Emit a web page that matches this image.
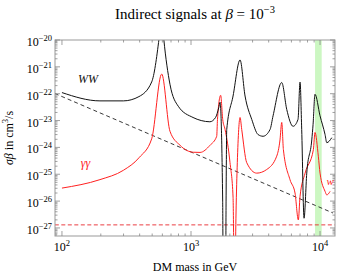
<!DOCTYPE html>
<html>
<head>
<meta charset="utf-8">
<script src="https://cdn.jsdelivr.net/npm/d3@7"></script>
<style>
  body { margin: 0; background: #fff; }
  text { font-family: "Liberation Serif", "DejaVu Serif", serif; }
</style>
</head>
<body>
<script>
const width = 343,
  height = 280;

const margin = { top: 40, right: 8, bottom: 44, left: 55 };
const innerWidth = width - margin.left - margin.right;
const innerHeight = height - margin.top - margin.bottom;

// WW channel (black)
const wwMass = [100, 197, 299, 395, 496, 565, 592, 615, 687, 797, 1037, 1200, 1400, 1550, 1640, 1679,
  1760, 1780, 1850, 1870, 1892, 2118, 2400, 2624, 2957, 3311, 3616, 4096, 4325, 5050, 5520,
  6180, 6750, 7000, 7210, 7520, 7890, 8630, 8830, 9140, 10000, 10940, 11280, 12330];
const wwSigma = [1.1e-22, 5.4e-23, 5.4e-23, 7.8e-23, 2.75e-22, 1.1e-20, 8e-20, 1.1e-20, 2.25e-22, 3.4e-23,
  1.3e-23, 1e-23, 9e-24, 1.3e-23, 3e-23, 4.8e-23,
  1e-26, 1e-30, 1e-30, 1e-26, 4.6e-24, 8.2e-23, 1.8e-21, 8.2e-23, 1.1e-23, 3e-24, 2.6e-24, 4.6e-24, 1.5e-23, 2.6e-22, 2.6e-23,
  6.1e-24, 1.1e-23, 2.7e-22, 4.7e-24, 2.3e-27, 1.1e-25, 1.9e-24, 7e-24, 9.5e-23, 1.5e-23, 3e-24, 1.5e-24, 2.3e-24];

// gamma gamma channel (red)
const ggMass = [100, 197, 299, 395, 496, 593, 687, 822, 1042, 1175, 1404, 1582, 1604, 1698, 1761,
  1836, 2006, 2118, 2175, 2233, 2285, 2343, 2400, 2472, 2703, 3230, 3860, 4615, 4895, 5050,
  5200, 5850, 6400, 6790, 7000, 7660, 8880, 9140, 9700, 10000, 10940, 11280, 11970];
const ggSigma = [3.05e-26, 6.3e-26, 1.4e-25, 4.1e-25, 2.1e-24, 5.4e-22, 4e-24, 1.2e-24, 6.6e-25, 6.5e-25, 1.2e-24, 2.6e-24, 1.1e-23, 8.7e-23, 1.1e-23,
  4.7e-24, 2.7e-25, 1.4e-26, 1e-30, 3.6e-27, 2.7e-25, 4.7e-24, 1.3e-23, 4.7e-24, 2.7e-25, 1.1e-25, 1.5e-25, 4.7e-25, 1.9e-24, 8.5e-24,
  8.3e-25, 6.3e-26, 2e-26, 2e-27, 1.5e-26, 1.1e-25, 8.3e-25, 3.6e-24, 4.7e-25, 1.1e-25, 2.3e-26, 1.7e-26, 2.3e-26];

// reference lines
const thermalMass = [88, 12600];
const thermalSigma = [1.02e-22, 3.6e-27];
const boundMass = [88, 13000];
const boundSigma = [1.3e-27, 1.3e-27];

// green band
const bandMass = [9150, 10300];

const xDecades = [2, 3, 4];
const yDecades = [-20, -21, -22, -23, -24, -25, -26, -27];

const xScale = d3
  .scaleLog()
  .domain([Math.pow(10, 1.946), Math.pow(10, 4.116)])
  .range([0, innerWidth]);

const yScale = d3
  .scaleLog()
  .domain([Math.pow(10, -27.3), 1e-20])
  .range([innerHeight, 0]);

const svg = d3
  .select("body")
  .append("svg")
  .attr("width", width)
  .attr("height", height);

svg
  .append("defs")
  .append("clipPath")
  .attr("id", "plot-clip")
  .append("rect")
  .attr("width", innerWidth)
  .attr("height", innerHeight);

const mainG = svg
  .append("g")
  .attr("transform", `translate(${margin.left}, ${margin.top})`);

// green band
mainG
  .append("rect")
  .attr("x", xScale(bandMass[0]))
  .attr("y", 0)
  .attr("width", xScale(bandMass[1]) - xScale(bandMass[0]))
  .attr("height", innerHeight)
  .attr("fill", "#ccf7c2");

const plotG = mainG.append("g").attr("clip-path", "url(#plot-clip)");

const line = d3
  .line()
  .x(d => xScale(d[0]))
  .y(d => yScale(d[1]));

const smooth = d3
  .line()
  .x(d => xScale(d[0]))
  .y(d => yScale(d[1]))
  .curve(d3.curveMonotoneX);

plotG
  .append("path")
  .datum(d3.zip(thermalMass, thermalSigma))
  .attr("d", line)
  .attr("fill", "none")
  .attr("stroke", "#222")
  .attr("stroke-width", 0.9)
  .attr("stroke-dasharray", "4,3");

plotG
  .append("path")
  .datum(d3.zip(boundMass, boundSigma))
  .attr("d", line)
  .attr("fill", "none")
  .attr("stroke", "#e8282d")
  .attr("stroke-width", 0.9)
  .attr("stroke-dasharray", "4,2.5");

plotG
  .append("path")
  .datum(d3.zip(ggMass, ggSigma))
  .attr("d", smooth)
  .attr("fill", "none")
  .attr("stroke", "#ff2020")
  .attr("stroke-width", 1);

plotG
  .append("path")
  .datum(d3.zip(wwMass, wwSigma))
  .attr("d", smooth)
  .attr("fill", "none")
  .attr("stroke", "#111")
  .attr("stroke-width", 1);

// frame
mainG
  .append("rect")
  .attr("width", innerWidth)
  .attr("height", innerHeight)
  .attr("fill", "none")
  .attr("stroke", "#999")
  .attr("stroke-width", 1);

// ticks
const xMinor = [];
xDecades.concat([1]).forEach(e => {
  for (let k = 1; k < 10; k++) {
    const v = k * Math.pow(10, e);
    if (v >= xScale.domain()[0] && v <= xScale.domain()[1]) xMinor.push(v);
  }
});
const yMinor = [];
yDecades.concat([-28]).forEach(e => {
  for (let k = 1; k < 10; k++) {
    const v = k * Math.pow(10, e);
    if (v >= yScale.domain()[0] && v <= yScale.domain()[1]) yMinor.push(v);
  }
});

const tickG = mainG.append("g").attr("stroke", "#888").attr("stroke-width", 0.8);

xMinor.forEach(v => {
  const len = Number.isInteger(Math.log10(v)) ? 5 : 2.5;
  const x = xScale(v);
  tickG.append("line").attr("x1", x).attr("x2", x).attr("y1", innerHeight).attr("y2", innerHeight - len);
  tickG.append("line").attr("x1", x).attr("x2", x).attr("y1", 0).attr("y2", len);
});
yMinor.forEach(v => {
  const len = Math.abs(Math.log10(v) - Math.round(Math.log10(v))) < 1e-9 ? 5 : 2.5;
  const y = yScale(v);
  tickG.append("line").attr("x1", 0).attr("x2", len).attr("y1", y).attr("y2", y);
  tickG.append("line").attr("x1", innerWidth).attr("x2", innerWidth - len).attr("y1", y).attr("y2", y);
});

// "10^e" label drawn as two text pieces; anchor is "middle" or "end"
function powLabel(g, x, y, exp, anchor) {
  const base = g.append("text").attr("y", y).attr("font-size", 12).text("10");
  const sup = g.append("text").attr("y", y - 5).attr("font-size", 8.5).text(exp);
  const bw = base.node().getComputedTextLength();
  const sw = sup.node().getComputedTextLength();
  const x0 = anchor === "end" ? x - bw - sw : x - (bw + sw) / 2;
  base.attr("x", x0);
  sup.attr("x", x0 + bw);
}

xDecades.forEach(e => {
  powLabel(mainG, xScale(Math.pow(10, e)), innerHeight + 15, String(e), "middle");
});

yDecades.forEach(e => {
  powLabel(mainG, -3, yScale(Math.pow(10, e)) + 6, "\u2212" + Math.abs(e), "end");
});

// curve labels
mainG
  .append("text")
  .attr("x", xScale(133))
  .attr("y", yScale(2.2e-22) - 2)
  .attr("font-size", 12)
  .attr("font-style", "italic")
  .attr("fill", "#111")
  .text("WW");

mainG
  .append("text")
  .attr("x", xScale(140))
  .attr("y", yScale(1.8e-25))
  .attr("font-size", 12)
  .attr("font-style", "italic")
  .attr("fill", "#ff2020")
  .text("\u03b3\u03b3");

mainG
  .append("text")
  .attr("x", xScale(11200))
  .attr("y", yScale(4e-26))
  .attr("font-size", 11)
  .attr("font-style", "italic")
  .attr("fill", "#ff2020")
  .text("w");

// axis titles
mainG
  .append("text")
  .attr("x", innerWidth / 2)
  .attr("y", innerHeight + 35)
  .attr("text-anchor", "middle")
  .attr("font-size", 12)
  .text("DM mass in GeV");

const yLab = mainG
  .append("text")
  .attr("transform", `translate(-42, ${innerHeight / 2}) rotate(-90)`)
  .attr("text-anchor", "middle")
  .attr("font-size", 12);
yLab.append("tspan").attr("font-style", "italic").text("\u03c3\u03b2");
yLab.append("tspan").text(" in cm");
yLab.append("tspan").attr("dy", -5).attr("font-size", 8.5).text("3");
yLab.append("tspan").attr("dy", 5).text("/s");

const title = svg
  .append("text")
  .attr("x", margin.left + innerWidth / 2)
  .attr("y", 19)
  .attr("text-anchor", "middle")
  .attr("font-size", 15);
title.append("tspan").text("Indirect signals at ");
title.append("tspan").attr("font-style", "italic").text("\u03b2");
title.append("tspan").text(" = 10");
title.append("tspan").attr("dy", -6).attr("font-size", 10.5).text("\u22123");
</script>
</body>
</html>
